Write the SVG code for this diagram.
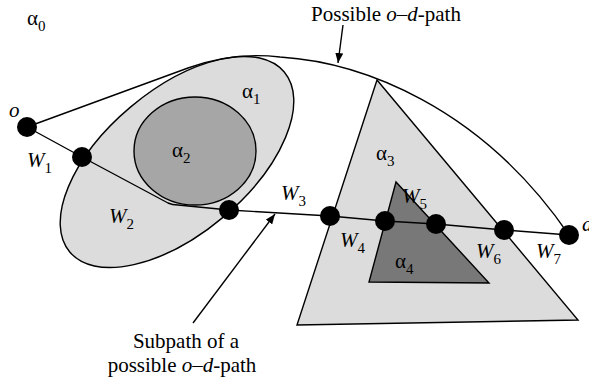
<svg xmlns="http://www.w3.org/2000/svg" width="589" height="380" viewBox="0 0 589 380">
<defs>
<marker id="arr" viewBox="0 0 10 8" refX="10" refY="4" markerWidth="10" markerHeight="8" markerUnits="userSpaceOnUse" orient="auto">
<path d="M0,0 L10,4 L0,8 Z" fill="#000"/>
</marker>
</defs>
<style>
.t{font-family:"Liberation Serif","Times New Roman",serif;font-size:21px;fill:#000}
.i{font-style:italic}
.s{font-size:15px}
.ln{fill:none;stroke:#000;stroke-width:1.4}
.reg{stroke:#000;stroke-width:1.4}
.nd{fill:#000}
</style>
<rect width="589" height="380" fill="#fff"/>
<g id="region-a1"><ellipse class="reg" cx="177" cy="162" rx="140" ry="72" transform="rotate(-40 177 162)" fill="#dcdcdc"/></g>
<g id="region-a2"><ellipse class="reg" cx="195" cy="151" rx="61" ry="54" fill="#a6a6a6"/></g>
<g id="region-a3"><path class="reg" d="M377,80 L297,325 L578,320 Z" fill="#dcdcdc"/></g>
<g id="region-a4"><path class="reg" d="M396,182 L369,282 L489,283 Z" fill="#787878"/></g>
<g id="connectors">
<path class="ln" d="M27,127 L188,68 C215,58 245,53 280,57 C360,62 480,105 569,235"/>
<path class="ln" d="M27,127 L82,157 L168,203 Q172,205 178,205 L229,210 L330,216 L385,221 L436,224 L504,230 L569,235"/>
<line class="ln" x1="343" y1="25" x2="338" y2="63" marker-end="url(#arr)"/>
<line class="ln" x1="193" y1="323" x2="275" y2="214" marker-end="url(#arr)"/>
</g>
<g id="node-o"><circle class="nd" cx="27" cy="127" r="10"/></g>
<g id="node-1"><circle class="nd" cx="82" cy="157" r="10"/></g>
<g id="node-2"><circle class="nd" cx="229" cy="210" r="10"/></g>
<g id="node-3"><circle class="nd" cx="330" cy="216" r="10"/></g>
<g id="node-4"><circle class="nd" cx="385" cy="221" r="10"/></g>
<g id="node-5"><circle class="nd" cx="436" cy="224" r="10"/></g>
<g id="node-6"><circle class="nd" cx="504" cy="230" r="10"/></g>
<g id="node-d"><circle class="nd" cx="569" cy="235" r="10"/></g>
<g id="labels">
<text class="t" x="27" y="25">α<tspan class="s" dy="6">0</tspan></text>
<text class="t" x="242" y="98">α<tspan class="s" dy="6">1</tspan></text>
<text class="t" x="172" y="157">α<tspan class="s" dy="6">2</tspan></text>
<text class="t" x="376" y="160">α<tspan class="s" dy="6">3</tspan></text>
<text class="t" x="395" y="268">α<tspan class="s" dy="6">4</tspan></text>
<text class="t i" x="9" y="117">o</text>
<text class="t i" x="582" y="231">d</text>
<text class="t i" x="27" y="167">W<tspan class="s" font-style="normal" dy="6">1</tspan></text>
<text class="t i" x="109" y="223">W<tspan class="s" font-style="normal" dy="6">2</tspan></text>
<text class="t i" x="281" y="200">W<tspan class="s" font-style="normal" dy="6">3</tspan></text>
<text class="t i" x="340" y="247">W<tspan class="s" font-style="normal" dy="6">4</tspan></text>
<text class="t i" x="402" y="203">W<tspan class="s" font-style="normal" dy="6">5</tspan></text>
<text class="t i" x="476" y="258">W<tspan class="s" font-style="normal" dy="6">6</tspan></text>
<text class="t i" x="536" y="258">W<tspan class="s" font-style="normal" dy="6">7</tspan></text>
<text class="t" x="386" y="21" text-anchor="middle">Possible <tspan class="i">o</tspan>–<tspan class="i">d</tspan>-path</text>
<text class="t" x="186" y="348" text-anchor="middle">Subpath of a</text>
<text class="t" x="182" y="372" text-anchor="middle">possible <tspan class="i">o</tspan>–<tspan class="i">d</tspan>-path</text>
</g>
</svg>
